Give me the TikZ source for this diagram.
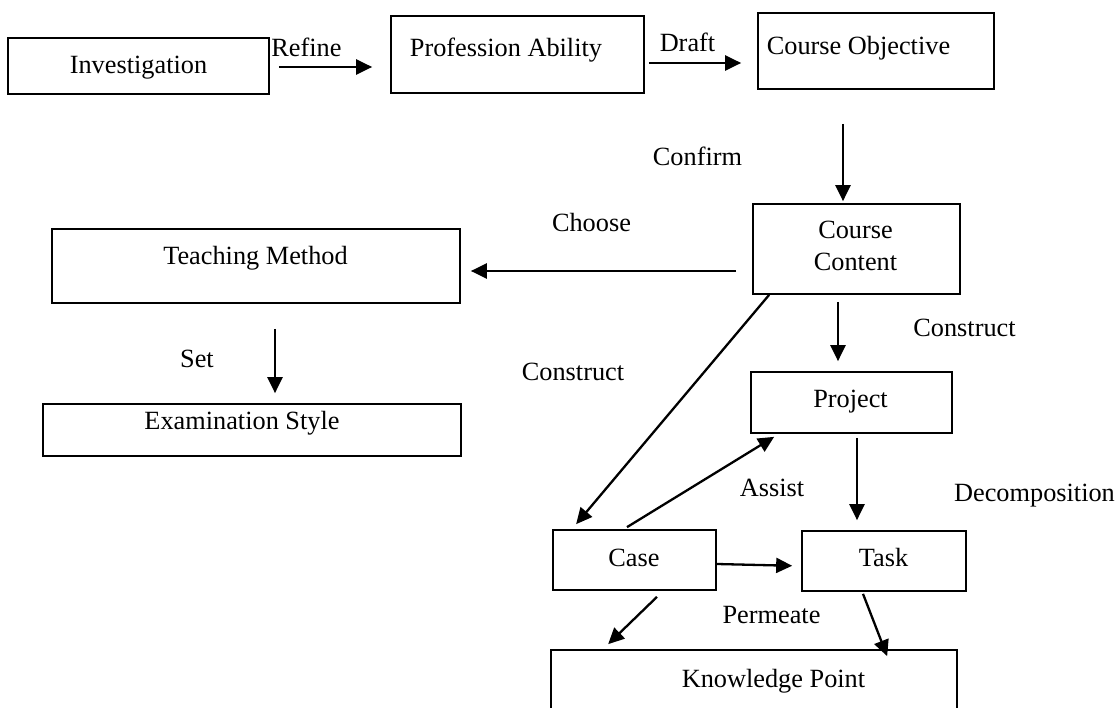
\documentclass[tikz,border=0pt]{standalone}
\usepackage{fontspec}
\setmainfont{Liberation Serif}
\usetikzlibrary{arrows.meta}

\begin{document}
\begin{tikzpicture}[x = 1pt, y = -1pt,
	box/.style = {draw = black, line width = 1.7pt, shape = rectangle, inner sep = 0pt},
	word/.style = {anchor = base, inner sep = 0pt, font = \fontsize{26.3}{32}\selectfont},
	flow/.style = {line width = 2.3pt, -{Triangle[length = 16pt, width = 15pt]}}]

	\useasboundingbox (0,0) rectangle (1120,708);

	\draw (138.5,66) node[box, minimum width = 261pt, minimum height = 56pt](inv){};
	\draw (517.5,54.5) node[box, minimum width = 253pt, minimum height = 77pt](prof){};
	\draw (876,51) node[box, minimum width = 236pt, minimum height = 76pt](obj){};
	\draw (856.5,249) node[box, minimum width = 207pt, minimum height = 90pt](content){};
	\draw (256,266) node[box, minimum width = 408pt, minimum height = 74pt](teach){};
	\draw (252,430) node[box, minimum width = 418pt, minimum height = 52pt](exam){};
	\draw (851.5,402.5) node[box, minimum width = 201pt, minimum height = 61pt](proj){};
	\draw (634.5,560) node[box, minimum width = 163pt, minimum height = 60pt](case){};
	\draw (884,561) node[box, minimum width = 164pt, minimum height = 60pt](task){};
	\draw (754,695) node[box, minimum width = 406pt, minimum height = 90pt](know){};

	\draw (138.5,74) node[word](invtext){Investigation};
	\draw (506,57) node[word](proftext){Profession Ability};
	\draw (858.5,55) node[word](objtext){Course Objective};
	\draw (855.5,246) node[word, anchor = center, align = center](contenttext){Course\\Content};
	\draw (255.5,265) node[word](teachtext){Teaching Method};
	\draw (242,430) node[word](examtext){Examination Style};
	\draw (850.5,408) node[word](projtext){Project};
	\draw (634,566) node[word](casetext){Case};
	\draw (883.5,566) node[word](tasktext){Task};
	\draw (773.5,687) node[word](knowtext){Knowledge Point};

	\draw (306.5,57) node[word](refine){Refine};
	\draw (687.5,52) node[word](draft){Draft};
	\draw (697.5,166) node[word](confirm){Confirm};
	\draw (591.5,232) node[word](choose){Choose};
	\draw (197,368) node[word](set){Set};
	\draw (964.5,337) node[word](constructR){Construct};
	\draw (573,381) node[word](constructL){Construct};
	\draw (772,497) node[word](assist){Assist};
	\draw (1034.5,502) node[word](decomp){Decomposition};
	\draw (771.5,623) node[word](permeate){Permeate};

	\draw[flow, shorten <= 9pt, shorten >= 18pt] ([yshift = -1pt]inv.east) -- ([yshift = -1pt]inv.east -| prof.west);
	\draw[flow, shorten <= 4pt, shorten >= 16pt] ([yshift = -8.5pt]prof.east) -- ([yshift = -8.5pt]prof.east -| obj.west);
	\draw[flow, shorten <= 34pt, shorten >= 2pt] ([xshift = -33pt]obj.south) -- ([xshift = -33pt]obj.south |- content.north);
	\draw[flow, shorten <= 16pt, shorten >= 10pt] ([yshift = -22pt]content.west) -- ([yshift = -22pt]content.west -| teach.east);
	\draw[flow, shorten <= 25pt, shorten >= 10pt] ([xshift = 19pt]teach.south) -- ([xshift = 19pt]teach.south |- exam.north);
	\draw[flow, shorten <= 7pt, shorten >= 10pt] ([xshift = -18.5pt]content.south) -- ([xshift = -18.5pt]content.south |- proj.north);
	\draw[flow] ([xshift = 17pt]content.south west) -- ([xshift = 24pt, yshift = 5pt]case.north west);
	\draw[flow] ([xshift = -7.5pt, yshift = 2pt]case.north) -- ([xshift = 24pt, yshift = -3pt]proj.south west);
	\draw[flow, shorten <= 4pt, shorten >= 10pt] ([xshift = 5.5pt]proj.south) -- ([xshift = 5.5pt]proj.south |- task.north);
	\draw[flow, shorten >= 9pt] ([yshift = -4pt]case.east) -- ([yshift = -5pt]task.west);
	\draw[flow] ([xshift = 22.5pt, yshift = -6pt]case.south) -- ([xshift = 58pt, yshift = 5pt]know.north west);
	\draw[flow] ([xshift = -21pt, yshift = -2pt]task.south) -- ([xshift = 337pt, yshift = -7pt]know.north west);

\end{tikzpicture}
\end{document}
